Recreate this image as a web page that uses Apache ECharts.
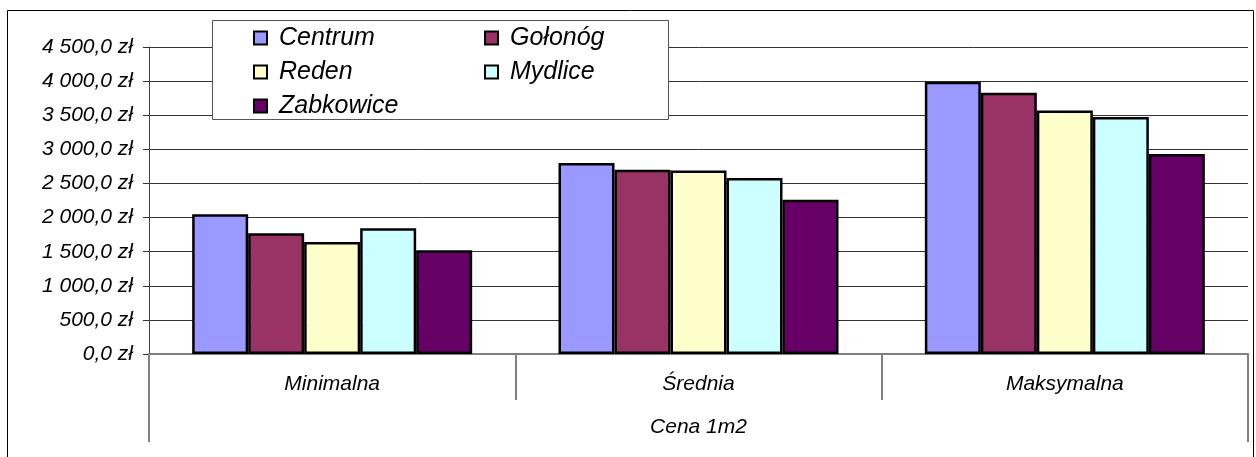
<!DOCTYPE html>
<html>
<head>
<meta charset="utf-8">
<script src="https://cdn.jsdelivr.net/npm/echarts@6/dist/echarts.min.js"></script>
<style>html,body{margin:0;padding:0;background:#fff;}#c{width:1256px;height:457px;}</style>
</head>
<body>
<div id="c"></div>
<script>
var categories = ['Minimalna', 'Średnia', 'Maksymalna'];
var groupLabel = ['Cena 1m2'];
var seriesNames = ['Centrum', 'Gołonóg', 'Reden', 'Mydlice', 'Zabkowice'];
var centrum = [2050, 2800, 3990];
var golonog = [1770, 2700, 3830];
var reden = [1640, 2690, 3570];
var mydlice = [1845, 2580, 3475];
var zabkowice = [1520, 2260, 2930];
var colors = ['#9999FF', '#993366', '#FFFFCC', '#CCFFFF', '#660066'];
var values = [centrum, golonog, reden, mydlice, zabkowice];

var FONT = "'Liberation Sans', Arial, sans-serif";

function fmt(v) {
  var s = v.toFixed(1).replace('.', ',');
  var parts = s.split(',');
  var ip = parts[0].replace(/\B(?=(\d{3})+(?!\d))/g, ' ');
  return ip + ',' + parts[1] + ' zł';
}

var series = seriesNames.map(function (n, i) {
  return {
    name: n,
    type: 'bar',
    data: values[i],
    barWidth: 56,
    barGap: '0%',
    itemStyle: { color: colors[i], borderColor: '#000', borderWidth: 2.5 },
    emphasis: { disabled: true }
  };
});

var legendText = { fontFamily: FONT, fontStyle: 'italic', fontSize: 25, color: '#000', lineHeight: 34, padding: [0, 0, 0, 7] };

var chart = echarts.init(document.getElementById('c'));
chart.setOption({
  animation: false,
  backgroundColor: '#fff',
  grid: { left: 149, right: 8, top: 47, bottom: 103, containLabel: false },
  legend: [
    {
      data: ['Centrum', 'Reden', 'Zabkowice'],
      orient: 'vertical', left: 253, top: 21, padding: 0, itemGap: 0,
      icon: 'rect', itemWidth: 13, itemHeight: 13, selectedMode: false, z: 10,
      itemStyle: { borderColor: '#000', borderWidth: 2 },
      textStyle: legendText
    },
    {
      data: ['Gołonóg', 'Mydlice'],
      orient: 'vertical', left: 484, top: 21, padding: 0, itemGap: 0,
      icon: 'rect', itemWidth: 13, itemHeight: 13, selectedMode: false, z: 10,
      itemStyle: { borderColor: '#000', borderWidth: 2 },
      textStyle: legendText
    }
  ],
  xAxis: [
    {
      type: 'category',
      data: categories,
      position: 'bottom',
      axisLine: { show: true, lineStyle: { color: '#808080', width: 2 } },
      axisTick: { show: true, interval: 0, length: 46, lineStyle: { color: '#808080', width: 2 } },
      axisLabel: { margin: 20, fontFamily: FONT, fontStyle: 'italic', fontSize: 21, color: '#000' },
      splitLine: { show: false }
    },
    {
      type: 'category',
      data: groupLabel,
      position: 'bottom',
      offset: 0,
      axisLine: { show: false },
      axisTick: { show: true, interval: 0, length: 88, lineStyle: { color: '#808080', width: 2 } },
      axisLabel: { margin: 63, fontFamily: FONT, fontStyle: 'italic', fontSize: 21, color: '#000' },
      splitLine: { show: false }
    }
  ],
  yAxis: {
    type: 'value',
    min: 0, max: 4500, interval: 500,
    axisLine: { show: true, lineStyle: { color: '#404040', width: 1 } },
    axisTick: { show: true, length: 6, lineStyle: { color: '#333', width: 1 } },
    axisLabel: { margin: 16, fontFamily: FONT, fontStyle: 'italic', fontSize: 21, color: '#000', formatter: fmt },
    splitLine: { show: true, lineStyle: { color: '#333', width: 1 } }
  },
  graphic: [
    {
      type: 'rect', z: 3, silent: true,
      shape: { x: 212.5, y: 20.5, width: 456, height: 99 },
      style: { fill: '#fff', stroke: '#555', lineWidth: 1 }
    },
    {
      type: 'rect', z: 100, silent: true,
      shape: { x: 7.5, y: 10.5, width: 1246, height: 460 },
      style: { fill: 'none', stroke: '#000', lineWidth: 1 }
    }
  ],
  series: series
});
</script>
</body>
</html>
